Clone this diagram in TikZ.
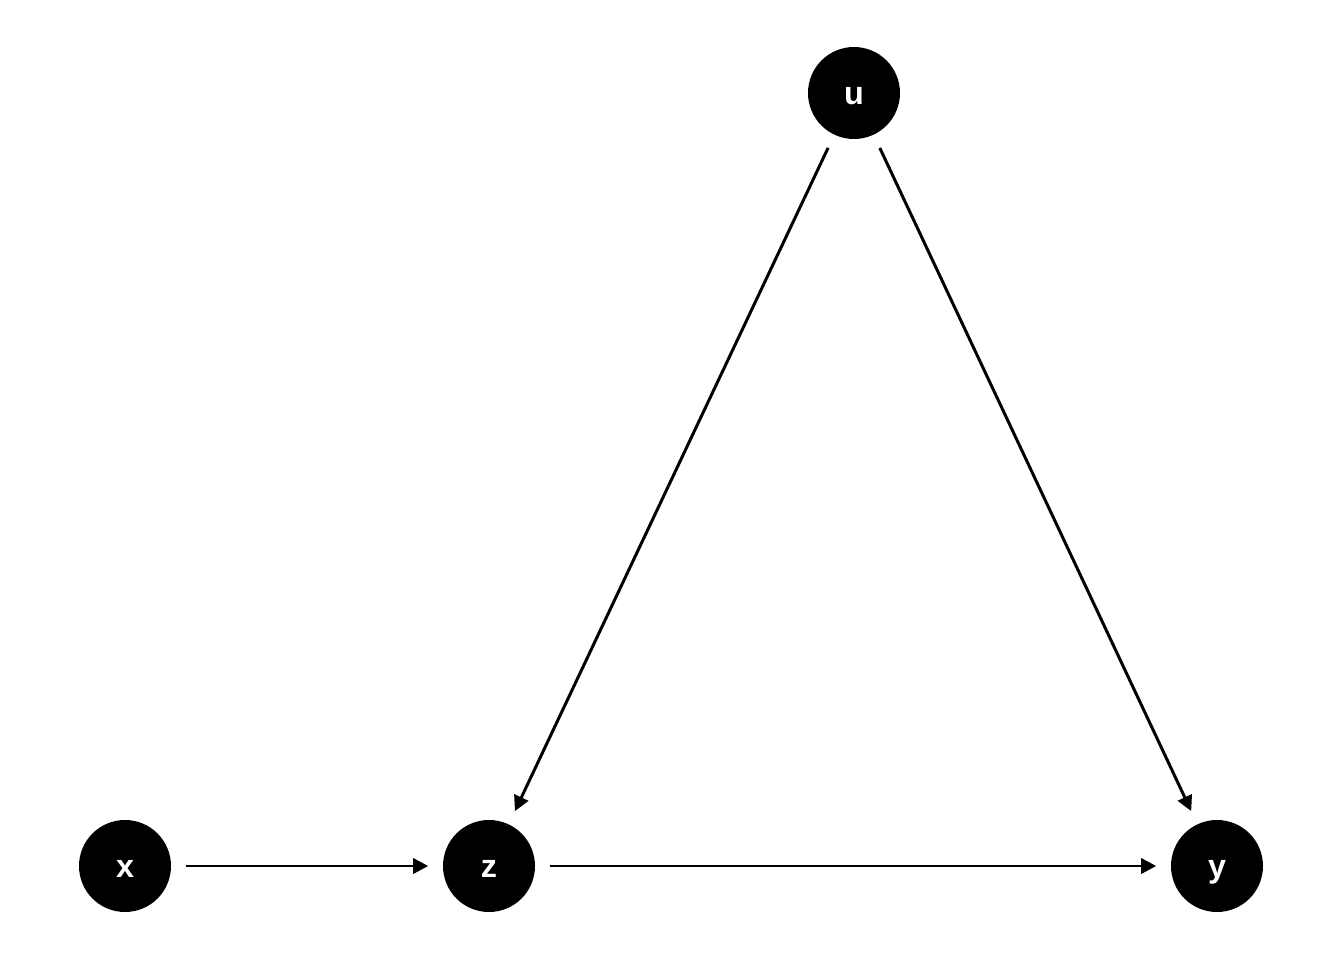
\documentclass[tikz,border=0pt]{standalone}
\usepackage{fontspec}
\setmainfont{Liberation Sans}
\usetikzlibrary{arrows.meta,arrows}
\usetikzlibrary{positioning}

\begin{document}
\begin{tikzpicture}
                \useasboundingbox (0, 0) rectangle (13.44, 9.60);
                \begin{scope}[every node/.style={circle, fill=black, text=white, minimum size=0.92cm, inner sep=0pt, text height=6.8pt, text depth=0pt, font=\fontsize{9.2}{11}\selectfont\bfseries}]
                    \node (u) at (8.54, 8.67) {u};
                    \node (x) at (1.25, 0.94) {x};
                    \node (z) at (4.89, 0.94) {z};
                    \node (y) at (12.17, 0.94) {y};
                \end{scope}

                \begin{scope}[>={Triangle[length=4.3pt, width=4.3pt]},
                    line width=0.85pt, shorten >=0.14cm, shorten <=0.14cm
                    ]
                    \path [->] (x) edge (z);
                    \path [->] (z) edge (y);
                    \path [->] (u) edge (z);
                    \path [->] (u) edge (y);
                \end{scope}
            \end{tikzpicture}
\end{document}
